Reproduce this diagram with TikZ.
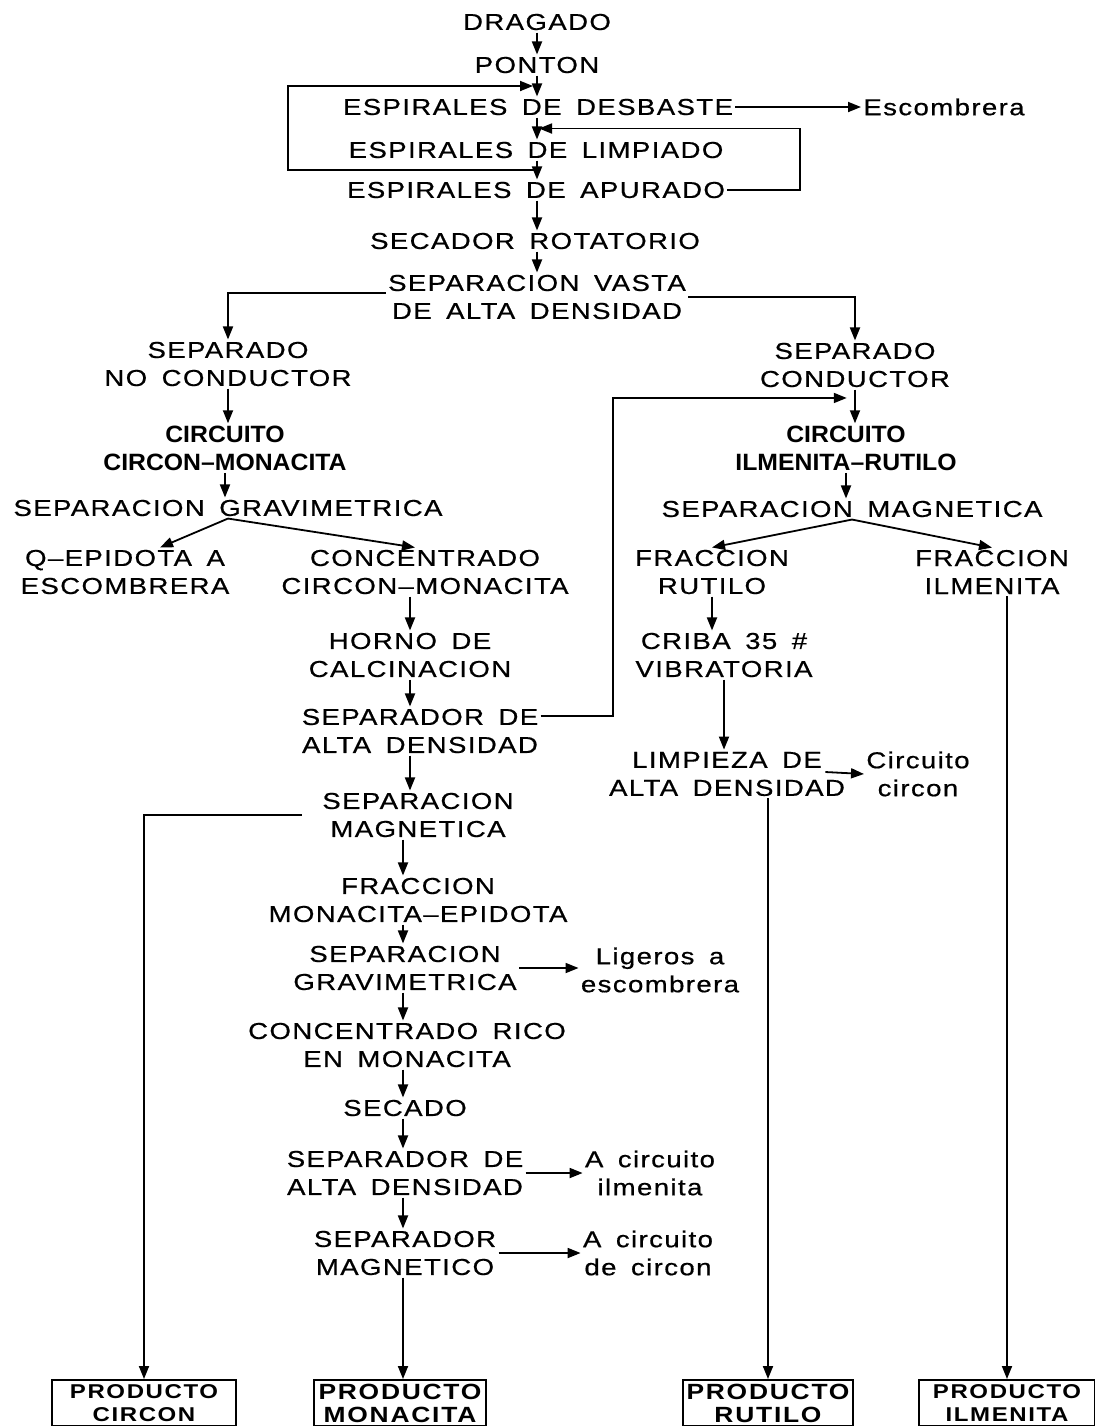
\documentclass[tikz,border=0pt]{standalone}
\usepackage{fontspec}
\usepackage{tikz}
\usetikzlibrary{calc,arrows.meta}
\newfontfamily\flowfont[LetterSpace=6,WordSpace=1.6,FakeStretch=1.2,FakeBold=0.6]{Liberation Sans}
\newfontfamily\flowbold[FakeStretch=1.05]{Liberation Sans}
\newfontfamily\boxfont[LetterSpace=8,FakeStretch=1.2]{Liberation Sans}

\begin{document}
\begin{tikzpicture}[x=0.5pt,y=-0.5pt,
		lbl/.style={inner sep=1pt,align=center,font=\flowfont\fontsize{11.5}{14}\selectfont},
		bld/.style={inner sep=1pt,align=center,font=\flowbold\bfseries\fontsize{11.8}{14}\selectfont},
		prod/.style={draw,line width=1pt,inner sep=1pt,align=center,minimum height=23pt},
		arr/.style={line width=0.9pt,-{Triangle[length=6.5pt,width=5pt]}},
		ln/.style={line width=0.9pt}]
			%%%%% START %%%%%
			\useasboundingbox (0,0) rectangle (1095,1426);
			
			\coordinate (cl) at (410,0);
			\coordinate (cm) at (403,0);
			\coordinate (lx) at (613,0);
			\coordinate (rx) at (800,0);
			\coordinate (lftx) at (288,0);
			
			\node[lbl] (drag) at (537,22) {DRAGADO};
			\node[lbl] (pont) at (537,65) {PONTON};
			\node[lbl] (desb) at (538,107) {ESPIRALES DE DESBASTE};
			\node[lbl] (escb) at (944,107) {Escombrera};
			\node[lbl] (limp) at (536,150) {ESPIRALES DE LIMPIADO};
			\node[lbl] (apur) at (536,190) {ESPIRALES DE APURADO};
			\node[lbl] (seca) at (535,241) {SECADOR ROTATORIO};
			\node[lbl] (vast) at (537,297) {SEPARACION VASTA\\DE ALTA DENSIDAD};
			
			\node[lbl] (nocond) at (228,364) {SEPARADO\\NO CONDUCTOR};
			\node[lbl] (cond) at (855,365) {SEPARADO\\CONDUCTOR};
			\node[bld] (circm) at (225,448) {CIRCUITO\\CIRCON–MONACITA};
			\node[bld] (ilru) at (846,448) {CIRCUITO\\ILMENITA–RUTILO};
			\node[lbl] (grav) at (228,508) {SEPARACION GRAVIMETRICA};
			\node[lbl] (magn) at (852,509) {SEPARACION MAGNETICA};
			\node[lbl] (qepi) at (125,572) {Q–EPIDOTA A\\ESCOMBRERA};
			\node[lbl] (conc) at (425,572) {CONCENTRADO\\CIRCON–MONACITA};
			\node[lbl] (frut) at (712,572) {FRACCION\\RUTILO};
			\node[lbl] (film) at (992,572) {FRACCION\\ILMENITA};
			
			\node[lbl] (horno) at (410,655) {HORNO DE\\CALCINACION};
			\node[lbl] (criba) at (724,655) {CRIBA 35 \#\\VIBRATORIA};
			\node[lbl] (sepad) at (420,731) {SEPARADOR DE\\ALTA DENSIDAD};
			\node[lbl] (limpz) at (727,774) {LIMPIEZA DE\\ALTA DENSIDAD};
			\node[lbl] (ccirc) at (918,774) {Circuito\\circon};
			\node[lbl] (smag) at (418,815) {SEPARACION\\MAGNETICA};
			
			\node[lbl] (fmon) at (418,900) {FRACCION\\MONACITA–EPIDOTA};
			\node[lbl] (sgrav) at (405,968) {SEPARACION\\GRAVIMETRICA};
			\node[lbl] (liger) at (660,970) {Ligeros a\\escombrera};
			\node[lbl] (crico) at (407,1045) {CONCENTRADO RICO\\EN MONACITA};
			\node[lbl] (secad) at (405,1108) {SECADO};
			\node[lbl] (sad2) at (405,1173) {SEPARADOR DE\\ALTA DENSIDAD};
			\node[lbl] (acilm) at (650,1173) {A circuito\\ilmenita};
			\node[lbl] (smgt) at (405,1253) {SEPARADOR\\MAGNETICO};
			\node[lbl] (acirc) at (648,1253) {A circuito\\de circon};
			
			\node[prod,minimum width=92pt,font=\boxfont\bfseries\fontsize{10}{11.5}\selectfont] (pcirc) at (144,1403) {PRODUCTO\\CIRCON};
			\node[prod,minimum width=86pt,font=\boxfont\bfseries\fontsize{11}{11.5}\selectfont] (pmon) at (400,1403) {PRODUCTO\\MONACITA};
			\node[prod,minimum width=85pt,font=\boxfont\bfseries\fontsize{11}{11.5}\selectfont] (prut) at (768,1403) {PRODUCTO\\RUTILO};
			\node[prod,minimum width=88pt,font=\boxfont\bfseries\fontsize{10}{11.5}\selectfont] (pilm) at (1007,1403) {PRODUCTO\\ILMENITA};
			
			% espirales
			\draw[arr] (drag.south) -- (drag.south |- pont.north);
			\draw[arr] (pont.south) -- (pont.south |- desb.north);
			\draw[arr] (pont.south |- desb.south) -- (pont.south |- limp.north);
			\draw[arr] (pont.south |- limp.south) -- (pont.south |- apur.north);
			\draw[arr] (pont.south |- apur.south) -- (pont.south |- seca.north);
			\draw[arr] (pont.south |- seca.south) -- (pont.south |- vast.north);
			\draw[arr] (desb.east) -- (escb.west);
			\coordinate (mla) at ($(pont.south |- limp.south)!.5!(pont.south |- apur.north)$);
			\coordinate (mpd) at ($(pont.south)!.5!(pont.south |- desb.north)$);
			\coordinate (mdl) at ($(pont.south |- desb.south)!.5!(pont.south |- limp.north)$);
			\draw[arr,shorten >=2pt] (mla) -- (mla -| lftx) |- (mpd);
			\draw[arr,shorten >=1pt] (apur.east) -| (mdl -| rx) -- (mdl);
			
			% separacion vasta
			\draw[arr] ($(vast.west)+(0,-4)$) -| (nocond.north);
			\draw[arr] (vast.east) -| (cond.north);
			\draw[arr] (nocond.south) -- (nocond.south |- circm.north);
			\draw[arr] (cond.south) -- (cond.south |- ilru.north);
			\draw[arr] (circm.south) -- (circm.south |- grav.north);
			\draw[arr] (ilru.south) -- (ilru.south |- magn.north);
			\draw[arr] (grav.south) -- ($(qepi.north)+(35,0)$);
			\draw[arr] (grav.south) -- ($(conc.north)+(-10,0)$);
			\draw[arr] (magn.south) -- (frut.north);
			\draw[arr] (magn.south) -- (film.north);
			
			% circuito circon-monacita
			\draw[arr] (cl |- conc.south) -- (cl |- horno.north);
			\draw[arr] (cl |- horno.south) -- (cl |- sepad.north);
			\draw[arr] (cl |- sepad.south) -- (cl |- smag.north);
			\coordinate (cdm) at ($(cond.south)!.25!(ilru.north)$);
			\draw[arr,shorten >=3pt] ($(sepad.east)+(0,-15)$) -| (lx |- cdm) -- (cdm);
			\draw[arr] ($(smag.west)+(-18,0)$) -| (pcirc.north);
			\draw[arr] (cm |- smag.south) -- (cm |- fmon.north);
			\draw[arr] (cm |- fmon.south) -- (cm |- sgrav.north);
			\draw[arr] (cm |- sgrav.south) -- (cm |- crico.north);
			\draw[arr] (cm |- crico.south) -- (cm |- secad.north);
			\draw[arr] (cm |- secad.south) -- (cm |- sad2.north);
			\draw[arr] (cm |- sad2.south) -- (cm |- smgt.north);
			\draw[arr] (cm |- smgt.south) -- (cm |- pmon.north);
			\draw[arr] (sgrav.east) -- (sgrav.east -| liger.west);
			\draw[arr] (sad2.east) -- (sad2.east -| acilm.west);
			\draw[arr] (smgt.east) -- (smgt.east -| acirc.west);
			
			% circuito ilmenita-rutilo
			\draw[arr] (frut.south) -- (frut.south |- criba.north);
			\draw[arr] (criba.south) -- (criba.south |- limpz.north);
			\draw[arr] ($(limpz.east)+(-22,-2)$) -- (ccirc.west);
			\draw[arr] (prut.north |- limpz.south) -- (prut.north);
			\draw[arr] (pilm.north |- film.south) -- (pilm.north);
			%%%%% END %%%%%
\end{tikzpicture}
\end{document}
